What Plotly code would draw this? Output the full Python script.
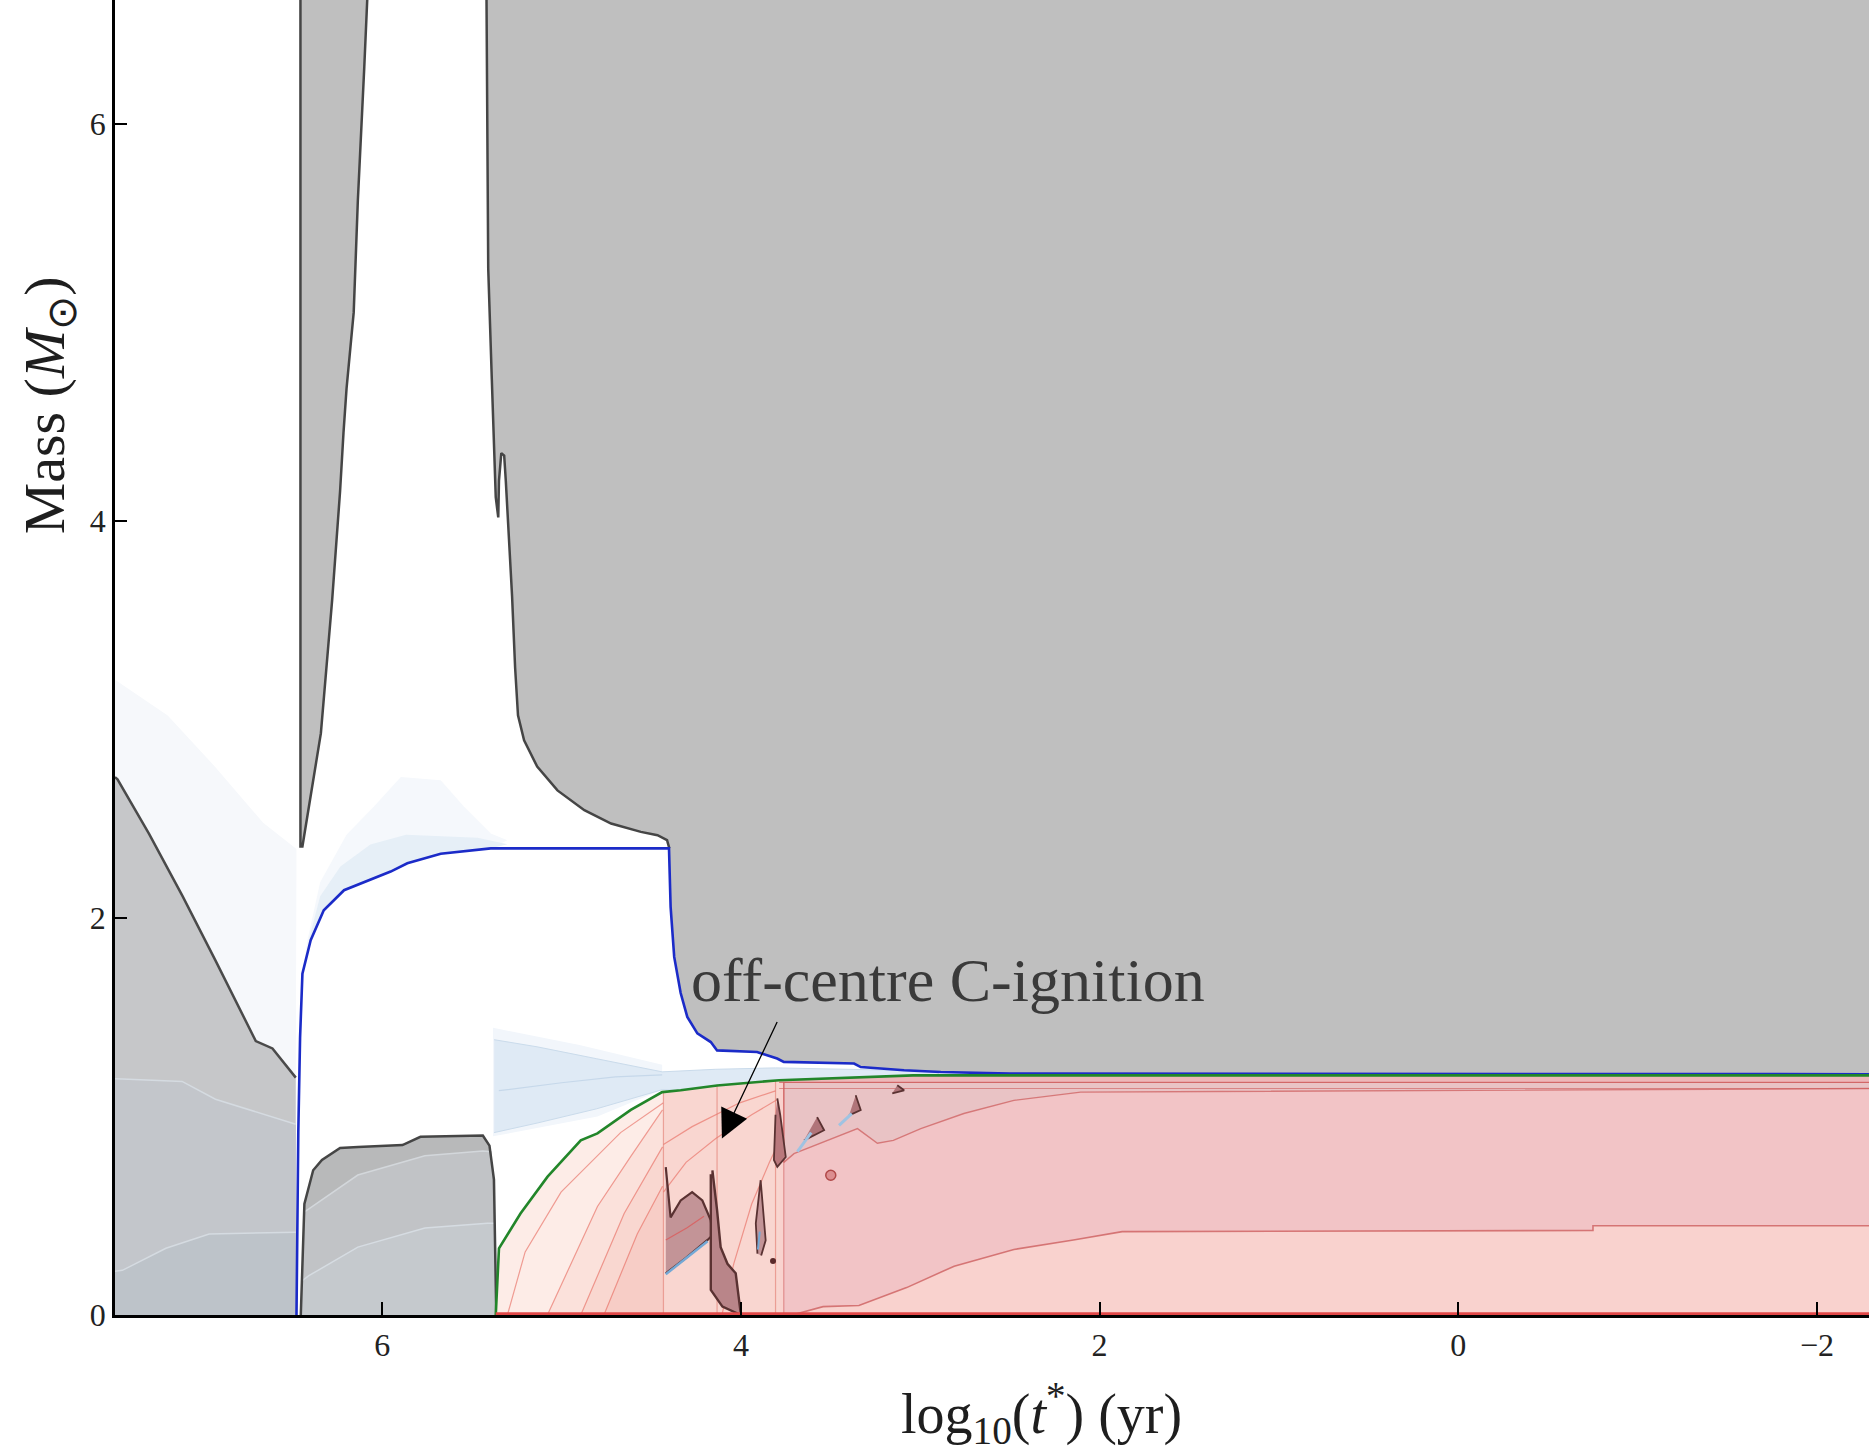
import plotly.graph_objects as go

# ---------------- axes / text ----------------
X_RANGE = [7.49, -2.29]
Y_RANGE = [0.0, 6.625]
X_TICKVALS = [6, 4, 2, 0, -2]
X_TICKTEXT = ["6", "4", "2", "0", "\u22122"]
Y_TICKVALS = [0, 2, 4, 6]
Y_TICKTEXT = ["0", "2", "4", "6"]
X_TITLE = "log<sub>10</sub>(<i>t</i><sup>*</sup>) (yr)"
Y_TITLE = "Mass (<i>M</i><sub>\u2299</sub>)"
NOTE_TEXT = "off-centre C-ignition"
NOTE_X, NOTE_Y = 4.292, 1.69
ARROW_TAIL_X, ARROW_TAIL_Y = 3.794, 1.484
ARROW_TIP_X, ARROW_TIP_Y = 4.106, 0.889

X_LEFT, X_RIGHT, M_TOP = 7.49, -2.3, 6.7

# ---------------- early convective envelope (left, staircase) ----------------
stair_x = [7.49, 7.476, 7.300, 7.114, 6.928, 6.742, 6.705, 6.612, 6.482]
stair_y = [2.71, 2.699, 2.424, 2.112, 1.783, 1.453, 1.380, 1.343, 1.196]
left_line_a_x = [7.49, 7.449, 7.116, 6.930, 6.482]
left_line_a_y = [1.19, 1.189, 1.177, 1.087, 0.961]
left_line_b_x = [7.49, 7.449, 7.206, 6.965, 6.482]
left_line_b_y = [0.22, 0.225, 0.336, 0.408, 0.417]
left_tint_top_x = [7.49, 7.196, 6.930, 6.664, 6.478]
left_tint_top_y = [3.20, 3.02, 2.76, 2.48, 2.348]

# ---------------- narrow convective spike ----------------
spike_left_x = 6.456
spike_right_x = [6.445, 6.342, 6.279, 6.235, 6.216, 6.199, 6.159, 6.136, 6.100, 6.086, 6.08]
spike_right_y = [2.360, 2.931, 3.604, 4.150, 4.444, 4.667, 5.051, 5.612, 6.288, 6.625, 6.7]

# ---------------- deep convective envelope boundary ----------------
env_x = [5.419, 5.409, 5.389, 5.376, 5.367, 5.353, 5.349, 5.336, 5.320, 5.311, 5.298,
         5.287, 5.276, 5.259, 5.243, 5.209, 5.136, 5.023, 4.873, 4.724, 4.558, 4.465,
         4.412, 4.399]
env_y = [6.7, 5.273, 4.715, 4.342, 4.120, 4.018, 4.204, 4.342, 4.330, 4.204, 4.006,
         3.850, 3.622, 3.261, 3.021, 2.895, 2.763, 2.643, 2.543, 2.476, 2.434, 2.417,
         2.392, 2.351]

# ---------------- H-free core boundary (blue) ----------------
blue_x = [6.478, 6.468, 6.458, 6.445, 6.399, 6.326, 6.213, 6.027, 5.953, 5.860, 5.674,
          5.395, 4.401, 4.392, 4.372, 4.336, 4.299, 4.243, 4.168, 4.133, 3.910, 3.798,
          3.761, 3.369, 3.332, 3.090, 2.886, 2.5, -2.3]
blue_y = [0.0, 0.919, 1.399, 1.720, 1.888, 2.039, 2.140, 2.207, 2.234, 2.276, 2.324,
          2.351, 2.351, 2.056, 1.804, 1.622, 1.502, 1.419, 1.375, 1.333, 1.325, 1.292,
          1.275, 1.267, 1.249, 1.233, 1.224, 1.216, 1.213]

# ---------------- He-free core boundary (green) ----------------
green_x = [5.367, 5.349, 5.229, 5.078, 4.893, 4.800, 4.614, 4.439, 4.336, 4.133, 3.787, 3.040, -2.3]
green_y = [0.0, 0.336, 0.511, 0.697, 0.880, 0.915, 1.033, 1.123, 1.132, 1.156, 1.183, 1.207, 1.207]

# ---------------- convective He core ----------------
core_x = [6.454, 6.434, 6.385, 6.336, 6.235, 6.135, 5.887, 5.787, 5.439, 5.402, 5.377, 5.364]
core_y = [0.0, 0.559, 0.729, 0.781, 0.841, 0.847, 0.856, 0.898, 0.904, 0.853, 0.682, 0.0]
core_c1_x = [6.434, 6.409, 6.136, 5.762, 5.439, 5.390]
core_c1_y = [0.52, 0.535, 0.705, 0.802, 0.826, 0.823]
core_c2_x = [6.450, 6.409, 6.136, 5.762, 5.413, 5.370]
core_c2_y = [0.17, 0.198, 0.342, 0.438, 0.462, 0.462]

# ---------------- faint burning tints (blue) ----------------
hshell_outer_top_x = [5.302, 5.395, 5.544, 5.674, 5.896, 6.047, 6.199, 6.346, 6.419]
hshell_outer_top_y = [2.392, 2.426, 2.560, 2.694, 2.711, 2.560, 2.420, 2.180, 1.880]
hshell_inner_top_x = [5.302, 5.468, 5.867, 6.066, 6.233, 6.346, 6.412]
hshell_inner_top_y = [2.372, 2.405, 2.420, 2.370, 2.260, 2.110, 1.880]
wedge_top_x = [5.376, 5.136, 4.804, 4.439, 4.140, 3.807, 3.076, 2.9]
wedge_top_y = [1.387, 1.351, 1.291, 1.225, 1.238, 1.245, 1.232, 1.222]
wedge_bot_x = [2.9, 3.040, 3.787, 4.133, 4.336, 4.439, 4.804, 5.136, 5.376]
wedge_bot_y = [1.207, 1.207, 1.183, 1.156, 1.132, 1.135, 1.039, 0.967, 0.919]
wedge_line_x = [5.35, 5.0, 4.7, 4.439]
wedge_line_y = [1.13, 1.17, 1.20, 1.21]
wedge_halo_x = [5.382, 4.9, 4.439, 4.439, 4.8, 5.382]
wedge_halo_y = [1.447, 1.36, 1.261, 1.135, 1.0, 0.90]

# ---------------- carbon burning contours (red) ----------------
fan0_x = [5.302, 5.203, 5.003, 4.671, 4.432]
fan0_y = [0.0, 0.318, 0.619, 0.919, 1.069]
fan1_x = [5.079, 4.800, 4.614, 4.437]
fan1_y = [0.0, 0.547, 0.799, 1.033]
fan2_x = [4.893, 4.651, 4.437]
fan2_y = [0.0, 0.511, 0.847]
fan3_x = [4.764, 4.578, 4.437]
fan3_y = [0.0, 0.408, 0.649]
mid_m1_x = [4.432, 4.306, 4.140, 3.940, 3.794]
mid_m1_y = [0.619, 0.769, 0.889, 1.009, 1.087]
mid_m4_x = [4.432, 4.272, 4.007, 3.807]
mid_m4_y = [0.859, 0.949, 1.069, 1.129]
mid_m5_x = [4.106, 4.040, 3.940, 3.841, 3.794]
mid_m5_y = [0.0, 0.258, 0.559, 0.769, 0.859]
step_edges_x = [4.432, 4.133, 3.807]

big_low_x = [3.714, 3.542, 3.342, 3.076, 2.811, 2.478, 2.146, 1.874, -0.751, -0.751, -2.3]
big_low_y = [0.0, 0.042, 0.048, 0.138, 0.246, 0.330, 0.378, 0.420, 0.426, 0.450, 0.450]
BIG_TOP = 1.16
BIG_LEFT = 3.761
band_low_x = [-2.3, 2.106, 2.478, 2.757, 2.997, 3.150, 3.239, 3.350, 3.704, 3.761]
band_low_y = [1.141, 1.123, 1.081, 1.015, 0.939, 0.880, 0.865, 0.939, 0.813, 0.769]
BAND_TOP = 1.172

# convective cells near ignition
cellA_x = [4.419, 4.392, 4.336, 4.272, 4.215, 4.168, 4.159, 4.186, 4.306, 4.419]
cellA_y = [0.745, 0.492, 0.577, 0.619, 0.577, 0.477, 0.402, 0.378, 0.288, 0.210]
cellA_blue_x = [4.419, 4.306, 4.186]
cellA_blue_y = [0.205, 0.284, 0.372]
cellA_red_x = [4.419, 4.300, 4.206]
cellA_red_y = [0.378, 0.440, 0.498]
cellB_x = [4.159, 4.133, 4.113, 4.075, 4.029, 4.013, 4.0, 4.103, 4.168, 4.168]
cellB_y = [0.729, 0.529, 0.342, 0.258, 0.210, 0.108, 0.0, 0.042, 0.126, 0.709]
cellC_x = [3.908, 3.917, 3.890, 3.862, 3.887]
cellC_y = [0.309, 0.462, 0.679, 0.376, 0.300]
cellD_x = [3.797, 3.781, 3.750, 3.797, 3.816, 3.807]
cellD_y = [1.091, 1.009, 0.796, 0.746, 0.781, 1.009]
cellE1_x = [3.575, 3.536, 3.648]
cellE1_y = [0.997, 0.931, 0.880]
cellE2_x = [3.360, 3.332, 3.397]
cellE2_y = [1.107, 1.033, 1.006]
cellE3_x = [3.128, 3.090, 3.156]
cellE3_y = [1.157, 1.132, 1.117]
tailE1_x = [3.608, 3.685]
tailE1_y = [0.919, 0.823]
tailE2_x = [3.382, 3.453]
tailE2_y = [1.015, 0.955]
blob_x, blob_y = [3.499], [0.704]
dot_x, dot_y = [3.821], [0.272]

# ---------------- colours ----------------
GREY_ENV = "#bfbfbf"
OUTLINE = "#454545"
BLUE = "#1b2bc8"
GREEN = "#22862a"

fig = go.Figure()


def poly(x, y, fill, lc=None, lw=0):
    fig.add_trace(go.Scatter(x=x, y=y, mode="lines", fill="toself", fillcolor=fill,
                             line=dict(color=lc or fill, width=lw), hoverinfo="skip",
                             showlegend=False))


def line(x, y, color, width, shape="linear"):
    fig.add_trace(go.Scatter(x=x, y=y, mode="lines",
                             line=dict(color=color, width=width, shape=shape),
                             hoverinfo="skip", showlegend=False))


# left envelope
poly(stair_x + [6.482, 7.49], stair_y + [0, 0], "#c6c7c9")
poly(left_line_a_x + [6.482, 7.49], left_line_a_y + [0, 0], "#c3c6cb")
poly(left_line_b_x + [6.482, 7.49], left_line_b_y + [0, 0], "#bdc3c9")
line(left_line_a_x, left_line_a_y, "#d5dbe1", 1.5)
line(left_line_b_x, left_line_b_y, "#d5dbe1", 1.5)
poly(left_tint_top_x + stair_x[::-1], left_tint_top_y + stair_y[::-1], "#f6f8fb")
line(stair_x, stair_y, "#4a4a4a", 2.5)

# spike
poly([spike_left_x, spike_left_x] + spike_right_x,
     [M_TOP, spike_right_y[0]] + spike_right_y, GREY_ENV, OUTLINE, 2.5)

# envelope
i0 = 12
poly(env_x + blue_x[i0:] + [X_RIGHT], env_y + blue_y[i0:] + [M_TOP], GREY_ENV)
line(env_x, env_y, OUTLINE, 2.5)

# H-shell tints above blue line
poly(blue_x[3:12] + hshell_outer_top_x, blue_y[3:12] + hshell_outer_top_y, "#f5f8fc")
poly(blue_x[4:12] + hshell_inner_top_x, blue_y[4:12] + hshell_inner_top_y, "#e6eff7")

# He core
poly(core_x, core_y, "#b8b9ba")
poly(core_c1_x + [5.370, 6.450], core_c1_y + [0, 0], "#c1c3c6")
poly(core_c2_x + [5.366, 6.452], core_c2_y + [0, 0], "#c5c9cd")
line(core_c1_x, core_c1_y, "#d3d7db", 1.5)
line(core_c2_x, core_c2_y, "#d6dce2", 1.5)
line(core_x, core_y, OUTLINE, 2.5)

# wedge tint
poly(wedge_halo_x, wedge_halo_y, "#f2f6fb")
poly(wedge_top_x + wedge_bot_x, wedge_top_y + wedge_bot_y, "#dfeaf5", "#cadbeb", 1)
line(wedge_line_x, wedge_line_y, "#c6d8ea", 1.2)

# red regions
poly(green_x + [X_RIGHT], green_y + [0.0], "#fdece7")
poly(fan1_x + [4.432, 4.432], fan1_y + [1.033, 0.0], "#fbe1db")
poly(fan2_x + [4.432, 4.432], fan2_y + [0.847, 0.0], "#f9d7d0")
poly(fan3_x + [4.432, 4.432], fan3_y + [0.649, 0.0], "#f7cdc6")
for fx, fy in [(fan0_x, fan0_y), (fan1_x, fan1_y), (fan2_x, fan2_y), (fan3_x, fan3_y)]:
    line(fx, fy, "rgba(232,110,100,0.65)", 1.2)
poly([4.432, 4.336, 4.133, 3.787, 3.787, 4.432], [1.125, 1.132, 1.156, 1.183, 0.0, 0.0], "#f9d6d0")
for mx, my in [(mid_m1_x, mid_m1_y), (mid_m4_x, mid_m4_y), (mid_m5_x, mid_m5_y)]:
    line(mx, my, "rgba(232,110,100,0.65)", 1.2)
for ex, ey in zip(step_edges_x, [1.125, 1.156, 1.183]):
    line([ex, ex], [0, ey], "rgba(225,120,110,0.6)", 1.2)
poly(green_x[10:] + [X_RIGHT, 3.787], green_y[10:] + [0.0, 0.0], "#f9d2ce")
poly([BIG_LEFT, X_RIGHT] + big_low_x[::-1] + [BIG_LEFT],
     [BIG_TOP, BIG_TOP] + big_low_y[::-1] + [0.0], "#f2c4c6")
line(big_low_x, big_low_y, "rgba(205,95,95,0.8)", 1.6)
poly(band_low_x + [BIG_LEFT, X_RIGHT], band_low_y + [BAND_TOP, BAND_TOP], "#e9c3c5",
     "rgba(205,95,95,0.75)", 1.4)
poly(green_x[10:] + [X_RIGHT, 3.787], green_y[10:] + [BAND_TOP, BAND_TOP], "#edb7b9")
line([3.787, X_RIGHT], [BAND_TOP, BAND_TOP], "rgba(205,90,90,0.7)", 1.2)
line([3.787, X_RIGHT], [1.141, 1.141], "rgba(205,90,90,0.6)", 1.2)
line([BIG_LEFT, BIG_LEFT], [0.0, BAND_TOP], "rgba(210,100,100,0.6)", 1.2)

# convective cells
CELL_FILL = "#c39497"
CELL_LINE = "#5a3232"
poly(cellA_x, cellA_y, CELL_FILL, CELL_LINE, 2.2)
line(cellA_red_x, cellA_red_y, "rgba(220,90,90,0.8)", 1.2)
line(cellA_blue_x, cellA_blue_y, "#74a9d6", 2.5)
poly(cellB_x, cellB_y, "#b98589", CELL_LINE, 2.4)
poly(cellC_x, cellC_y, CELL_FILL, CELL_LINE, 1.8)
line([3.905, 3.895], [0.33, 0.42], "#74a9d6", 2)
poly(cellD_x, cellD_y, "#b9787c", CELL_LINE, 1.8)
for cx, cy in [(cellE1_x, cellE1_y), (cellE2_x, cellE2_y), (cellE3_x, cellE3_y)]:
    poly(cx, cy, "#b07479", CELL_LINE, 1.8)
line(tailE1_x, tailE1_y, "#9fc3e2", 3)
line(tailE2_x, tailE2_y, "#9fc3e2", 3)
fig.add_trace(go.Scatter(x=blob_x, y=blob_y, mode="markers",
                         marker=dict(size=10, color="#dc8e90", line=dict(color="#b04848", width=1.5)),
                         hoverinfo="skip", showlegend=False))
fig.add_trace(go.Scatter(x=dot_x, y=dot_y, mode="markers",
                         marker=dict(size=6, color="#5a2a2a"), hoverinfo="skip", showlegend=False))

# boundary lines
line(blue_x, blue_y, BLUE, 2.6)
line(green_x, green_y, GREEN, 2.6)
line([green_x[0], X_RIGHT], [0.006, 0.006], "#e04848", 3)

# annotations
fig.add_annotation(x=NOTE_X, y=NOTE_Y, xref="x", yref="y", text=NOTE_TEXT, showarrow=False,
                   xanchor="left", yanchor="middle",
                   font=dict(family="Liberation Serif", size=62, color="#3a3a3a"))
fig.add_annotation(x=ARROW_TIP_X, y=ARROW_TIP_Y, ax=ARROW_TAIL_X, ay=ARROW_TAIL_Y,
                   xref="x", yref="y", axref="x", ayref="y", text="", showarrow=True,
                   arrowhead=2, arrowsize=4.4, arrowwidth=1.3, arrowcolor="black")
fig.add_annotation(x=0.528, y=-0.0745, xref="paper", yref="paper", text=X_TITLE,
                   showarrow=False, xanchor="center", yanchor="middle",
                   font=dict(family="Liberation Serif", size=56, color="#1e1e1e"))
fig.add_annotation(x=-0.038, y=0.692, xref="paper", yref="paper", text=Y_TITLE,
                   showarrow=False, xanchor="center", yanchor="middle", textangle=-90,
                   font=dict(family="Liberation Serif", size=58, color="#1e1e1e"))

fig.update_layout(
    width=1869, height=1452,
    margin=dict(l=115, r=0, t=0, b=137, pad=0),
    paper_bgcolor="white", plot_bgcolor="white",
    xaxis=dict(range=X_RANGE, tickvals=X_TICKVALS, ticktext=X_TICKTEXT, ticks="inside",
               ticklen=13, tickwidth=1.5, tickcolor="black", showline=True, linecolor="black",
               linewidth=2.5, showgrid=False, zeroline=False,
               tickfont=dict(family="Liberation Serif", size=32, color="#222")),
    yaxis=dict(range=Y_RANGE, tickvals=Y_TICKVALS, ticktext=Y_TICKTEXT, ticks="inside",
               ticklen=12, tickwidth=1.5, tickcolor="black", showline=True, linecolor="black",
               linewidth=2.5, showgrid=False, zeroline=False,
               tickfont=dict(family="Liberation Serif", size=32, color="#222")),
)

fig.write_html("out.html")
